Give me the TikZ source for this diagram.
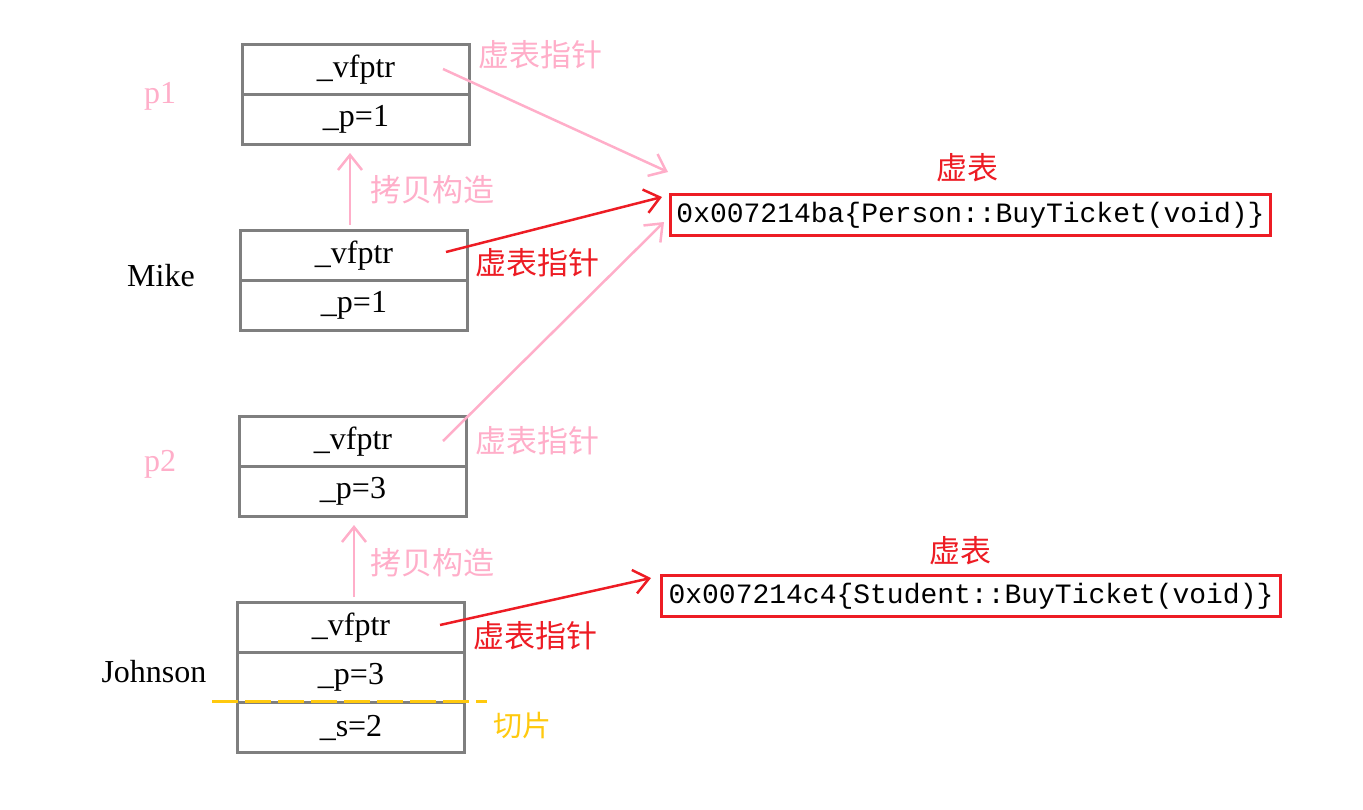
\documentclass[tikz,border=0pt]{standalone}
\usepackage{fontspec}
\setmainfont{Liberation Serif}
\newfontfamily\cjk{Noto Sans CJK SC}
\newfontfamily\monof{Liberation Mono}
\usetikzlibrary{arrows.meta,calc}
\definecolor{pk}{RGB}{255,174,201}
\definecolor{rd}{RGB}{237,28,36}
\definecolor{gd}{RGB}{255,201,14}
\definecolor{gr}{RGB}{127,127,127}
\tikzset{
  cell/.style={draw=gr,line width=3pt,minimum width=227pt,minimum height=50pt,inner sep=0pt,font=\fontsize{32}{34}\selectfont,anchor=north west},
  lbl/.style={font=\fontsize{32}{34}\selectfont},
  cjkl/.style={font=\cjk\fontsize{31}{33}\selectfont},
  vt/.style={draw=rd,line width=3pt,inner sep=0pt,minimum height=41pt,font=\monof\fontsize{28}{30}\selectfont,anchor=north west},
  ar/.style={line width=2.5pt,-{Straight Barb[length=15pt,width=24pt,line width=2.5pt]}},
}
\begin{document}
\begin{tikzpicture}[x=1pt,y=-1pt]
\useasboundingbox (0,0) rectangle (1363,809);
% boxes
\node[cell] (p1a) at (241,43) {\_vfptr};
\node[cell] (p1b) at (241,93) {\_p=1};
\node[cell] (ma) at (239,229) {\_vfptr};
\node[cell] (mb) at (239,279) {\_p=1};
\node[cell] (p2a) at (238,415) {\_vfptr};
\node[cell] (p2b) at (238,465) {\_p=3};
\node[cell] (ja) at (236,601) {\_vfptr};
\node[cell] (jb) at (236,651) {\_p=3};
\node[cell] (jc) at (236,701) {\_s=2};
% slice line
\coordinate (sl1) at (212,701);
\coordinate (sl2) at (487,701);
\draw[gd,line width=3pt,dash pattern=on 26pt off 7pt] (sl1) -- (sl2);
\node[cjkl,text=gd,font=\cjk\fontsize{29}{31}\selectfont] (qp) at (522,726) {切片};
% labels
\node[lbl,text=pk] (lp1) at (160,96) {p1};
\node[lbl] (lm) at (161,276) {Mike};
\node[lbl,text=pk] (lp2) at (160,464) {p2};
\node[lbl] (lj) at (154,672) {Johnson};
\node[cjkl,text=pk] (t1) at (540,55) {虚表指针};
\node[cjkl,text=rd] (t2) at (537,263) {虚表指针};
\node[cjkl,text=pk] (t3) at (537,441) {虚表指针};
\node[cjkl,text=rd] (t4) at (535,636) {虚表指针};
\node[cjkl,text=pk] (c1) at (432,190) {拷贝构造};
\node[cjkl,text=pk] (c2) at (432,563) {拷贝构造};
% vtables
\node[vt,minimum width=600pt] (v1) at (669,193) {0x007214ba\{Person::BuyTicket(void)\}};
\node[vt,minimum width=619pt] (v2) at (660,574) {0x007214c4\{Student::BuyTicket(void)\}};
\node[cjkl,text=rd] (vl1) at (967,168) {虚表};
\node[cjkl,text=rd] (vl2) at (960,551) {虚表};
% copy arrows
\draw[ar,pk] ($(ma.north)+(-4,-4)$) -- ($(p1b.south)+(-6,7)$);
\draw[ar,pk] ($(ja.north)+(3,-4)$) -- ($(p2b.south)+(1,7)$);
% pointer arrows
\coordinate (s1) at (443,69);
\coordinate (e1) at (668,172);
\coordinate (s2) at (446,252);
\coordinate (e2) at (662,197);
\coordinate (s3) at (443,441);
\coordinate (e3) at (664,222);
\coordinate (s4) at (440,625);
\coordinate (e4) at (651,578);
\draw[ar,pk] (s1) -- (e1);
\draw[ar,rd] (s2) -- (e2);
\draw[ar,pk] (s3) -- (e3);
\draw[ar,rd] (s4) -- (e4);
\end{tikzpicture}
\end{document}
